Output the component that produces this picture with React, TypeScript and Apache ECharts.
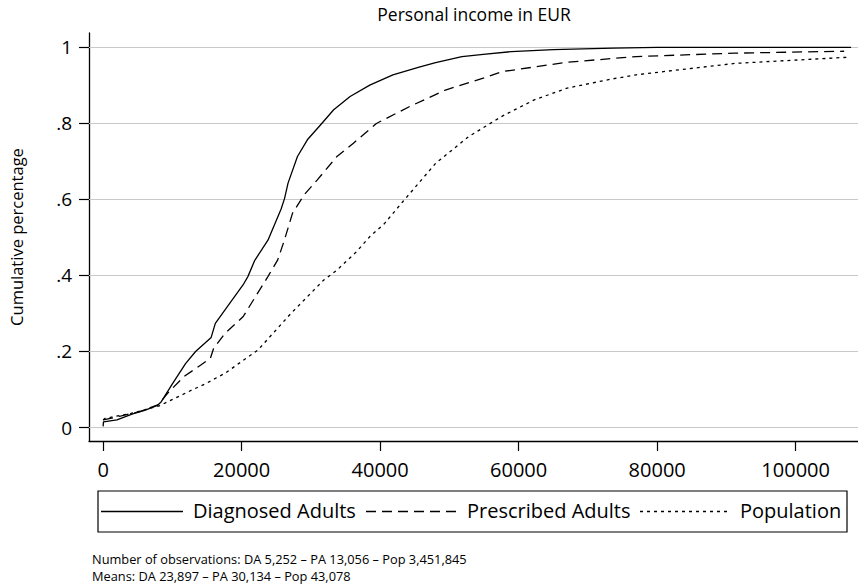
import React, { useEffect, useRef } from "react";
import * as echarts from "echarts";

const FONT = "'Open Sans', sans-serif";

const titleText = "Personal income in EUR";
const yAxisName = "Cumulative percentage";
const seriesNames = ["Diagnosed Adults", "Prescribed Adults", "Population"];
const noteLines = [
  "Number of observations: DA 5,252 \u2013 PA 13,056 \u2013 Pop 3,451,845",
  "Means: DA 23,897 \u2013 PA 30,134 \u2013 Pop 43,078",
];

const xTicks = [0, 20000, 40000, 60000, 80000, 100000];
const yTicks = [0, 0.2, 0.4, 0.6, 0.8, 1];
const yTickLabels = ["0", ".2", ".4", ".6", ".8", "1"];

// Diagnosed adults: income (EUR) and cumulative share
const daIncome = [0, 50, 2000, 4270, 6000, 7830, 8400, 10000, 11900, 13350, 15600, 16200, 18300, 20200, 20900, 21900, 23800, 25700, 26200, 26700, 28060, 29490, 31380, 33290, 35660, 38500, 41840, 45630, 48010, 51810, 54890, 58930, 65000, 73650, 80000, 108000];
const daShare = [0.003, 0.015, 0.02, 0.036, 0.045, 0.058, 0.068, 0.115, 0.168, 0.2, 0.237, 0.274, 0.327, 0.375, 0.397, 0.44, 0.493, 0.575, 0.603, 0.643, 0.713, 0.757, 0.796, 0.836, 0.871, 0.901, 0.928, 0.948, 0.96, 0.976, 0.982, 0.989, 0.994, 0.998, 1, 1];

// Prescribed adults
const paIncome = [0, 2500, 5270, 8000, 9300, 11680, 14060, 15480, 15950, 17620, 20230, 21410, 23790, 25210, 26170, 27350, 29010, 30900, 33760, 36140, 39460, 44200, 49430, 54890, 57500, 67000, 76970, 91210, 107000];
const paShare = [0.02, 0.03, 0.042, 0.06, 0.09, 0.134, 0.164, 0.182, 0.208, 0.248, 0.292, 0.327, 0.397, 0.441, 0.493, 0.564, 0.612, 0.651, 0.713, 0.748, 0.8, 0.844, 0.888, 0.919, 0.936, 0.961, 0.976, 0.985, 0.99];

// Whole population
const popIncome = [0, 285, 4000, 8120, 12860, 14770, 17620, 22360, 24740, 27110, 31860, 33760, 36610, 38500, 40640, 43260, 48010, 52750, 57500, 62250, 67000, 73180, 76970, 91210, 107360];
const popShare = [0.02, 0.024, 0.037, 0.057, 0.099, 0.115, 0.143, 0.204, 0.252, 0.3, 0.388, 0.414, 0.463, 0.502, 0.537, 0.594, 0.695, 0.765, 0.818, 0.862, 0.893, 0.916, 0.928, 0.958, 0.974];

const dashes: (number[] | "solid")[] = ["solid", [10, 6], [3, 4]];

const pairs = (xs: number[], ys: number[]) => xs.map((x, i) => [x, ys[i]]);

export default function App() {
  const ref = useRef<HTMLDivElement>(null);

  useEffect(() => {
    if (!ref.current) return;
    const chart = echarts.init(ref.current, null, { renderer: "svg" });

    const seriesData = [
      pairs(daIncome, daShare),
      pairs(paIncome, paShare),
      pairs(popIncome, popShare),
    ];

    const series: any[] = seriesData.map((d, i) => ({
      name: seriesNames[i],
      type: "line",
      data: d,
      showSymbol: false,
      symbol: "none",
      z: 3,
      lineStyle: { color: "#000", width: 1.3, type: dashes[i] },
    }));

    // horizontal grid lines at the labelled y values
    series[0].markLine = {
      silent: true,
      symbol: "none",
      label: { show: false },
      z: 1,
      lineStyle: { color: "#c8c8c8", width: 1, type: "solid" },
      data: yTicks.map((v) => ({ yAxis: v })),
    };

    // legend drawn as a framed strip below the plot
    const lx = 98, ly = 491, lw = 749, lh = 41, mid = ly + lh / 2;
    const sampleX = [[101, 183], [366, 458], [640, 730]];
    const textX = [193, 467, 740];
    const legend: any[] = [
      {
        type: "rect",
        shape: { x: lx, y: ly, width: lw, height: lh },
        style: { fill: "#fff", stroke: "#000", lineWidth: 1.2 },
      },
    ];
    seriesNames.forEach((n, i) => {
      legend.push({
        type: "line",
        shape: { x1: sampleX[i][0], y1: mid, x2: sampleX[i][1], y2: mid },
        style: { stroke: "#000", lineWidth: 1.3, lineDash: dashes[i] === "solid" ? null : dashes[i] },
      });
      legend.push({
        type: "text",
        x: textX[i],
        y: mid - 1,
        style: { text: n, font: `20px ${FONT}`, fill: "#000", textVerticalAlign: "middle", verticalAlign: "middle" },
      });
    });

    const notes = noteLines.map((t, i) => ({
      type: "text",
      x: 92,
      y: 559 + i * 17,
      style: { text: t, font: `12.8px ${FONT}`, fill: "#000", verticalAlign: "middle", textVerticalAlign: "middle" },
    }));

    chart.setOption({
      animation: false,
      backgroundColor: "#fff",
      textStyle: { fontFamily: FONT, color: "#000" },
      grid: { left: 79, right: 0, top: 33, bottom: 146, containLabel: false },
      xAxis: {
        type: "value",
        min: -2040,
        max: 109000,
        axisLine: { show: true, onZero: false, lineStyle: { color: "#000", width: 1.3 } },
        axisTick: { show: true, length: 10, customValues: xTicks, lineStyle: { color: "#000", width: 1.2 } },
        axisLabel: {
          customValues: xTicks,
          fontSize: 20,
          color: "#000",
          margin: 18,
          fontFamily: FONT,
          formatter: (v: number) => String(Math.round(v)),
        },
        splitLine: { show: false },
      },
      yAxis: {
        type: "value",
        min: -0.0355,
        max: 1.038,
        name: yAxisName,
        nameLocation: "middle",
        nameGap: 64,
        nameTextStyle: { fontSize: 16.5, color: "#000", fontFamily: FONT },
        axisLine: { show: true, onZero: false, lineStyle: { color: "#000", width: 1.3 } },
        axisTick: { show: true, length: 10, customValues: yTicks, lineStyle: { color: "#000", width: 1.2 } },
        axisLabel: {
          customValues: yTicks,
          fontSize: 19,
          color: "#000",
          margin: 17,
          fontFamily: FONT,
          formatter: (v: number) => {
            const i = yTicks.findIndex((t) => Math.abs(t - v) < 1e-6);
            return i >= 0 ? yTickLabels[i] : "";
          },
        },
        splitLine: { show: false },
      },
      graphic: [
        {
          type: "text",
          x: 474,
          y: 14,
          style: { text: titleText, font: `17.5px ${FONT}`, fill: "#000", textAlign: "center", align: "center", verticalAlign: "middle", textVerticalAlign: "middle" },
        },
        ...legend,
        ...notes,
      ],
      series,
    });

    return () => chart.dispose();
  }, []);

  return <div ref={ref} style={{ width: 858, height: 587, position: "absolute", left: 0, top: 0 }} />;
}
